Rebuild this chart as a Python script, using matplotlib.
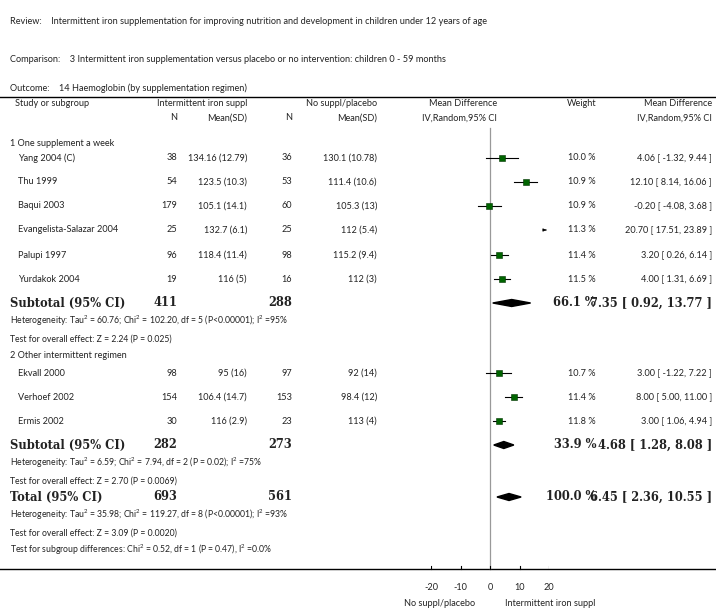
import matplotlib.pyplot as plt
from matplotlib.patches import Polygon

studies = ["Yang 2004 (C)", "Thu 1999", "Baqui 2003", "Evangelista-Salazar 2004", "Palupi 1997", "Yurdakok 2004",
           "Ekvall 2000", "Verhoef 2002", "Ermis 2002"]
n_int = [38, 54, 179, 25, 96, 19, 98, 154, 30]
msd_int = ["134.16 (12.79)", "123.5 (10.3)", "105.1 (14.1)", "132.7 (6.1)", "118.4 (11.4)", "116 (5)",
           "95 (16)", "106.4 (14.7)", "116 (2.9)"]
n_pla = [36, 53, 60, 25, 98, 16, 97, 153, 23]
msd_pla = ["130.1 (10.78)", "111.4 (10.6)", "105.3 (13)", "112 (5.4)", "115.2 (9.4)", "112 (3)",
           "92 (14)", "98.4 (12)", "113 (4)"]
md = [4.06, 12.10, -0.20, 20.70, 3.20, 4.00, 3.00, 8.00, 3.00]
lo = [-1.32, 8.14, -4.08, 17.51, 0.26, 1.31, -1.22, 5.00, 1.06]
hi = [9.44, 16.06, 3.68, 23.89, 6.14, 6.69, 7.22, 11.00, 4.94]
weight = [10.0, 10.9, 10.9, 11.3, 11.4, 11.5, 10.7, 11.4, 11.8]
study_y = [158, 182, 206, 230, 255, 279, 373, 397, 421]

sub_names = ["Subtotal (95% CI)", "Subtotal (95% CI)", "Total (95% CI)"]
sub_n_int = [411, 282, 693]
sub_n_pla = [288, 273, 561]
sub_md = [7.35, 4.68, 6.45]
sub_lo = [0.92, 1.28, 2.36]
sub_hi = [13.77, 8.08, 10.55]
sub_w = [66.1, 33.9, 100.0]
sub_y = [303, 445, 497]

notes = [(321, "Heterogeneity: Tau$^2$ = 60.76; Chi$^2$ = 102.20, df = 5 (P<0.00001); I$^2$ =95%"),
         (339, "Test for overall effect: Z = 2.24 (P = 0.025)"),
         (463, "Heterogeneity: Tau$^2$ = 6.59; Chi$^2$ = 7.94, df = 2 (P = 0.02); I$^2$ =75%"),
         (481, "Test for overall effect: Z = 2.70 (P = 0.0069)"),
         (515, "Heterogeneity: Tau$^2$ = 35.98; Chi$^2$ = 119.27, df = 8 (P<0.00001); I$^2$ =93%"),
         (533, "Test for overall effect: Z = 3.09 (P = 0.0020)"),
         (550, "Test for subgroup differences: Chi$^2$ = 0.52, df = 1 (P = 0.47), I$^2$ =0.0%")]
groups = [(143, "1 One supplement a week"), (356, "2 Other intermittent regimen")]
ticks = [-20, -10, 0, 10, 20]

plt.rcParams['font.family'] = ['Lato', 'DejaVu Sans']
plt.rcParams['mathtext.default'] = 'regular'
fs = 6.6
fig = plt.figure(figsize=(7.16, 6.12), dpi=100)
ax = fig.add_axes([0, 0, 1, 1])
ax.set_xlim(0, 716)
ax.set_ylim(612, 0)
ax.axis('off')

def t(x, y, s, ha='left', **kw):
    kw.setdefault('fontsize', fs)
    ax.text(x, y, s, ha=ha, va='center', color='#222222', **kw)

t(10, 21, "Review:    Intermittent iron supplementation for improving nutrition and development in children under 12 years of age")
t(10, 59, "Comparison:    3 Intermittent iron supplementation versus placebo or no intervention: children 0 - 59 months")
t(10, 88, "Outcome:    14 Haemoglobin (by supplementation regimen)")
ax.plot([0, 716], [97, 97], color='black', lw=1)
ax.plot([0, 716], [569, 569], color='black', lw=1)

t(15, 103, "Study or subgroup")
t(247, 103, "Intermittent iron suppl", ha='right')
t(177, 118, "N", ha='right')
t(247, 118, "Mean(SD)", ha='right')
t(377, 103, "No suppl/placebo", ha='right')
t(292, 118, "N", ha='right')
t(377, 118, "Mean(SD)", ha='right')
t(497, 103, "Mean Difference", ha='right')
t(497, 118, "IV,Random,95% CI", ha='right')
t(596, 103, "Weight", ha='right')
t(712, 103, "Mean Difference", ha='right')
t(712, 118, "IV,Random,95% CI", ha='right')

for y, s in groups:
    t(10, y, s)
for i in range(len(studies)):
    y = study_y[i]
    t(18, y, studies[i])
    t(177, y, str(n_int[i]), ha='right')
    t(247, y, msd_int[i], ha='right')
    t(292, y, str(n_pla[i]), ha='right')
    t(377, y, msd_pla[i], ha='right')
    t(596, y, "%.1f %%" % weight[i], ha='right')
    t(712, y, "%.2f [ %.2f, %.2f ]" % (md[i], lo[i], hi[i]), ha='right')
for i in range(3):
    y = sub_y[i]
    b = dict(fontsize=8.3, fontweight='bold', family='DejaVu Serif')
    t(10, y, sub_names[i], **b)
    t(177, y, str(sub_n_int[i]), ha='right', **b)
    t(292, y, str(sub_n_pla[i]), ha='right', **b)
    t(596, y, "%.1f %%" % sub_w[i], ha='right', **b)
    t(712, y, "%.2f [ %.2f, %.2f ]" % (sub_md[i], sub_lo[i], sub_hi[i]), ha='right', **b)
for y, s in notes:
    t(10, y, s, fontsize=6.2)

# forest panel: pixel x 431..549 corresponds to -20..20
fx = fig.add_axes([431 / 716, 0, 118 / 716, 1])
fx.set_xlim(-20, 20)
fx.set_ylim(612, 0)
fx.axis('off')
fx.plot([0, 0], [128, 569], color='#999999', lw=0.9)
for i in range(len(md)):
    y = study_y[i]
    if md[i] > 20:
        fx.annotate("", xy=(20, y), xytext=(18.0, y),
                    arrowprops=dict(arrowstyle='-|>', color='black', lw=0.7, mutation_scale=4))
        continue
    fx.plot([lo[i], hi[i]], [y, y], color='black', lw=0.8)
    fx.plot(md[i], y, 's', ms=weight[i] * 0.38, mfc='#006400', mec='#003300', mew=0.4)
for i in range(3):
    y = sub_y[i]
    fx.add_patch(Polygon([(sub_lo[i], y), (sub_md[i], y - 3.5), (sub_hi[i], y), (sub_md[i], y + 3.5)],
                         closed=True, color='black'))
for v in ticks:
    fx.plot([v, v], [569, 566], color='black', lw=0.8)
    fx.text(v, 587, str(v), ha='center', va='center', fontsize=fs, color='#222222')
fx.text(-5, 604, "No suppl/placebo", ha='right', va='center', fontsize=fs, color='#222222', clip_on=False)
fx.text(5, 604, "Intermittent iron suppl", ha='left', va='center', fontsize=fs, color='#222222', clip_on=False)

fig.savefig("out.png", dpi=100)
